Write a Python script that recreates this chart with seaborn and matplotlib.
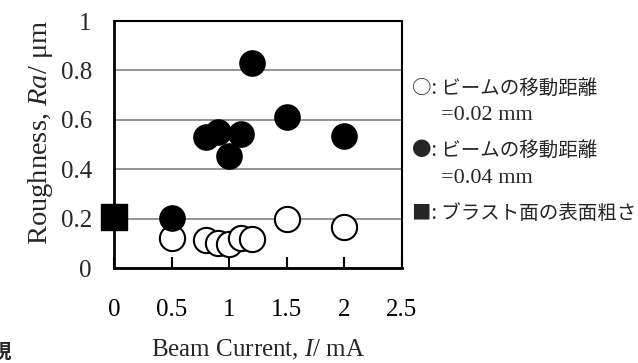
import numpy as np
import pandas as pd
import seaborn as sns
import matplotlib.pyplot as plt
from matplotlib.ticker import FuncFormatter

# beam current (mA) and surface roughness Ra (um)
current_002 = [0.5, 0.8, 0.9, 1.0, 1.1, 1.2, 1.5, 2.0]
ra_002 = [0.12, 0.113, 0.102, 0.096, 0.12, 0.116, 0.198, 0.165]

current_004 = [0.5, 0.8, 0.9, 1.0, 1.1, 1.2, 1.5, 2.0]
ra_004 = [0.201, 0.532, 0.552, 0.455, 0.541, 0.831, 0.613, 0.533]

current_blast = [0.0]
ra_blast = [0.205]

x_ticks = [0, 0.5, 1, 1.5, 2, 2.5]
y_ticks = [0, 0.2, 0.4, 0.6, 0.8, 1]

legend_lines = ["○: ビームの移動距離", "=0.02 mm",
                "●: ビームの移動距離", "=0.04 mm",
                "■: ブラスト面の表面粗さ"]

df_002 = pd.DataFrame({"I": current_002, "Ra": ra_002})
df_004 = pd.DataFrame({"I": current_004, "Ra": ra_004})
df_blast = pd.DataFrame({"I": current_blast, "Ra": ra_blast})

sns.set_style("white")
plt.rcParams["font.family"] = ["Liberation Serif", "Noto Sans CJK JP"]
plt.rcParams["mathtext.fontset"] = "custom"
plt.rcParams["mathtext.rm"] = "Liberation Serif"
plt.rcParams["mathtext.it"] = "Liberation Serif:italic"

fig = plt.figure(figsize=(6.38, 3.63), dpi=100)
ax = fig.add_axes([0.1787, 0.2617, 0.451, 0.6804])

sns.scatterplot(data=df_002, x="I", y="Ra", ax=ax, marker="o", s=330,
                facecolor="white", edgecolor="black", linewidth=1.5,
                zorder=3, clip_on=False)
sns.scatterplot(data=df_004, x="I", y="Ra", ax=ax, marker="o", s=330,
                color="black", edgecolor="black", linewidth=1,
                zorder=4, clip_on=False)
sns.scatterplot(data=df_blast, x="I", y="Ra", ax=ax, marker="s", s=360,
                color="black", edgecolor="black", linewidth=1,
                zorder=5, clip_on=False)

ax.set_xlim(0, 2.5)
ax.set_ylim(0, 1)
ax.set_xticks(x_ticks)
ax.set_yticks(y_ticks)
fmt = FuncFormatter(lambda v, p: "%g" % v)
ax.xaxis.set_major_formatter(fmt)
ax.yaxis.set_major_formatter(fmt)

ax.grid(axis="y", color="#8c8c8c", linewidth=1.3)
ax.set_axisbelow(True)
ax.tick_params(axis="x", direction="in", length=8, width=1.5, pad=22,
               labelsize=18, bottom=True, colors="black")
ax.tick_params(axis="y", length=0, pad=16, labelsize=18)

for side in ["left", "bottom"]:
    ax.spines[side].set_linewidth(2)
for side in ["top", "right"]:
    ax.spines[side].set_linewidth(1.5)
for sp in ax.spines.values():
    sp.set_color("black")

ax.set_xlabel("Beam Current, $I$/ mA", fontsize=18)
ax.xaxis.set_label_coords(0.5, (268 - 350) / 247, transform=ax.transAxes)
ax.xaxis.label.set_va("center")
ax.set_ylabel("Roughness, $Ra$/ μm", fontsize=20.5)
ax.yaxis.set_label_coords((40 - 114) / 287.7, 0.55, transform=ax.transAxes)
ax.yaxis.label.set_va("center")

# legend written as text lines to the right of the plot
jp = ["Noto Sans CJK JP", "DejaVu Sans"]
ys = [88, 115, 150, 178, 213]
xs = [412, 441, 412, 441, 412]
for txt, yy, xx in zip(legend_lines, ys, xs):
    if txt.startswith("="):
        fig.text(xx / 638, 1 - yy / 363, txt, fontsize=16,
                 family=["Liberation Serif"], va="center")
    else:
        fig.text(xx / 638, 1 - yy / 363, txt, fontsize=14, family=jp,
                 va="center")

# cut-off character at the bottom-left corner
fig.text(-8 / 638, 1 - 352 / 363, "現", fontsize=14, family=jp,
         weight="bold", va="center")

fig.savefig("out.png", dpi=100)
